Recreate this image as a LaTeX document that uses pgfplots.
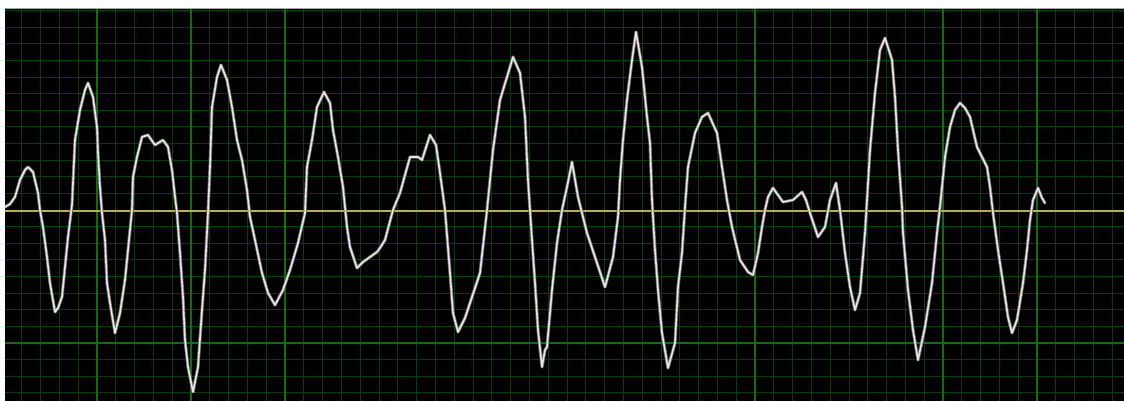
\documentclass[border=0pt]{standalone}
\usepackage{pgfplots}
\pgfplotsset{compat=1.18}
\usepackage{pgfplotstable}
\definecolor{minorgrid}{RGB}{0,66,0}
\definecolor{majorgrid}{RGB}{18,108,18}
\definecolor{yelline}{RGB}{190,172,72}
\definecolor{tracecol}{RGB}{232,232,232}
\definecolor{halocol}{RGB}{105,105,105}
\pgfplotstableread{
x y
5 207
10 204
15 197
20 180
25 170
28 167
33 172
38 193
40 210
43 227
47 257
50 283
55 312
58 308
62 297
65 267
68 237
72 205
75 140
80 110
85 90
88 83
93 97
97 127
98 153
100 187
102 213
105 240
107 283
110 303
115 333
120 313
125 280
128 250
132 210
133 177
137 157
142 137
148 135
155 145
163 140
168 147
172 170
175 197
177 213
180 253
183 297
185 340
188 367
193 392
198 367
202 310
205 270
208 213
210 167
212 107
217 77
221 65
227 80
232 107
237 140
242 160
247 190
250 217
255 240
262 273
268 293
275 305
283 290
290 270
298 243
305 213
307 167
312 140
317 107
324 92
330 103
333 130
338 157
343 187
347 227
350 247
357 268
363 262
370 257
377 252
380 248
385 240
393 210
400 193
410 157
418 157
422 160
430 135
436 145
440 173
445 210
450 273
453 313
458 332
465 318
470 303
480 273
487 210
493 150
500 100
507 77
513 57
520 73
525 117
528 180
532 240
535 283
538 330
542 367
545 350
547 347
552 290
557 243
562 210
567 187
572 162
578 197
587 233
597 263
605 287
613 257
618 217
620 180
623 140
627 100
632 60
636 32
642 67
647 117
650 143
652 200
655 250
658 290
662 333
668 368
675 343
678 287
682 253
685 207
688 167
695 133
702 117
708 113
717 133
722 167
727 200
732 227
740 260
748 272
753 275
758 253
762 227
765 210
768 197
773 188
778 195
783 202
793 200
802 192
806 200
810 213
818 237
825 227
830 200
836 183
840 210
845 253
850 287
855 310
860 293
865 233
867 200
870 150
875 93
880 50
885 38
892 60
895 97
898 150
902 207
903 233
908 290
913 330
918 360
925 327
932 283
937 233
940 207
945 157
950 127
955 110
960 103
965 108
970 117
977 147
987 167
990 187
993 213
998 250
1003 283
1008 317
1012 333
1017 320
1023 283
1027 250
1030 220
1033 200
1038 188
1042 198
1045 203
}\wave
\begin{document}
\begin{tikzpicture}
\useasboundingbox (0,0) rectangle (562pt,200.5pt);
\fill[white] (0,0) rectangle (562pt,200.5pt);
\begin{axis}[
  at={(2.5pt,0pt)}, anchor=south west,
  scale only axis, width=559.5pt, height=196pt,
  xmin=5, xmax=1124, ymin=9, ymax=401, y dir=reverse,
  axis background/.style={fill=black},
  axis line style={draw=none},
  xtick={3,21.8,...,1124}, ytick={10.8,27.4,...,401},
  xticklabels={}, yticklabels={},
  major tick length=0pt,
  grid=major,
  major grid style={draw=minorgrid, line width=0.5pt},
  extra x ticks={97,191,285,755,943,1037},
  extra x tick labels={},
  extra x tick style={major grid style={draw=majorgrid, line width=0.75pt}},
  extra y ticks={342.8},
  extra y tick labels={},
  extra y tick style={major grid style={draw=majorgrid, line width=0.75pt}},
  clip=true,
]
\addplot[color=yelline, line width=0.75pt] coordinates {(5,211) (1124,211)};
\addplot[color=halocol, line width=1.6pt, line join=round, line cap=round] table[x=x,y=y] {\wave};
\addplot[color=tracecol, line width=0.8pt, line join=round, line cap=round] table[x=x,y=y] {\wave};
\end{axis}
\draw[gray!70, line width=0.5pt] (2.5pt,196pt) -- (562pt,196pt);
\end{tikzpicture}
\end{document}
